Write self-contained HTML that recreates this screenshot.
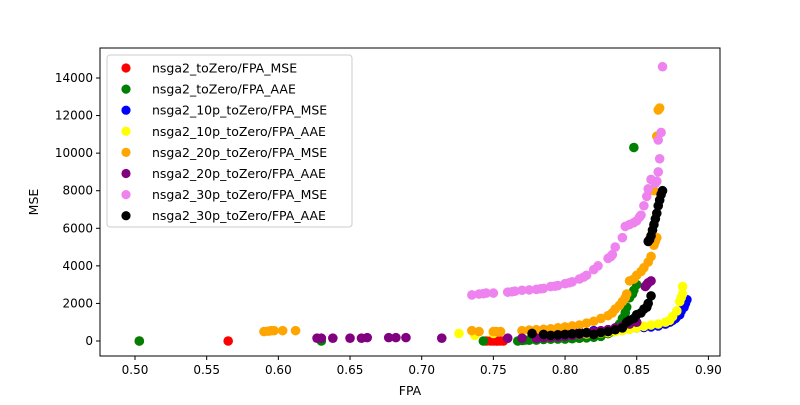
<!DOCTYPE html>
<html><head><meta charset="utf-8"><style>
body{margin:0;background:#fff;width:800px;height:400px;overflow:hidden}
svg{font-family:"DejaVu Sans","Liberation Sans",sans-serif}
</style></head><body>
<svg id="chart" width="800" height="400" xmlns="http://www.w3.org/2000/svg">
<rect x="0" y="0" width="800" height="400" fill="#fff"/>
<g id="marks"></g>
<g id="axes"></g>
<g id="legend"></g>
</svg>
<script>
const xTicks=[0.50,0.55,0.60,0.65,0.70,0.75,0.80,0.85,0.90];
const yTicks=[0,2000,4000,6000,8000,10000,12000,14000];
const seriesNames=["nsga2_toZero/FPA_MSE","nsga2_toZero/FPA_AAE","nsga2_10p_toZero/FPA_MSE","nsga2_10p_toZero/FPA_AAE","nsga2_20p_toZero/FPA_MSE","nsga2_20p_toZero/FPA_AAE","nsga2_30p_toZero/FPA_MSE","nsga2_30p_toZero/FPA_AAE"];
const seriesColors=["red","green","blue","yellow","orange","purple","violet","black"];
const redX=[0.503,0.565,0.745,0.748,0.75,0.752,0.753,0.755,0.757,0.77,0.775,0.78,0.785,0.79,0.80,0.81,0.82,0.83,0.84,0.845];
const redY=[0,0,0,0,0,0,0,0,0,50,50,100,100,100,150,150,200,400,700,900];
const greenX=[0.503,0.63,0.743,0.767,0.77,0.772,0.775,0.78,0.785,0.79,0.795,0.80,0.805,0.81,0.815,0.82,0.825,0.83,0.833,0.835,0.838,0.84,0.842,0.843,0.845,0.847,0.848,0.85,0.848];
const greenY=[0,0,0,0,30,50,50,50,80,100,100,100,120,150,170,200,250,400,500,600,900,1200,1500,1800,2300,2500,2700,3000,10300];
const blueX=[0.78,0.79,0.80,0.81,0.82,0.83,0.84,0.845,0.85,0.855,0.86,0.865,0.87,0.873,0.875,0.877,0.878,0.88,0.881,0.883,0.884,0.885];
const blueY=[500,480,450,500,550,600,650,680,700,720,750,800,900,1000,1100,1200,1300,1400,1600,1800,2000,2200];
const yellowX=[0.726,0.737,0.75,0.80,0.805,0.81,0.815,0.82,0.825,0.83,0.835,0.84,0.845,0.85,0.855,0.86,0.865,0.87,0.873,0.875,0.878,0.88,0.881,0.882,0.882];
const yellowY=[400,300,400,300,320,350,380,400,420,450,500,550,620,700,780,850,900,1000,1100,1300,1600,2100,2300,2500,2900];
const orangeX=[0.59,0.593,0.595,0.597,0.603,0.612,0.735,0.74,0.75,0.752,0.755,0.77,0.775,0.78,0.785,0.79,0.795,0.80,0.805,0.81,0.815,0.82,0.825,0.83,0.833,0.835,0.838,0.84,0.842,0.843,0.845,0.848,0.85,0.853,0.855,0.858,0.86,0.862,0.863,0.864,0.862,0.864,0.865,0.866];
const orangeY=[500,520,550,550,550,550,550,500,500,500,500,550,580,600,620,650,700,750,800,850,950,1050,1200,1350,1500,1700,1900,2100,2300,2500,3200,3300,3500,3700,3900,4200,4500,5100,5300,5500,8000,10900,12300,12400];
const purpleX=[0.627,0.63,0.638,0.65,0.658,0.662,0.677,0.682,0.689,0.714,0.76,0.77,0.78,0.785,0.79,0.795,0.80,0.805,0.81,0.815,0.82,0.825,0.83,0.835,0.84,0.845,0.85,0.856,0.857,0.858,0.86];
const purpleY=[150,150,150,150,150,180,180,180,180,150,150,150,150,180,200,220,250,300,350,420,500,550,600,700,800,900,1000,2900,3000,3100,3200];
const pinkX=[0.735,0.74,0.743,0.745,0.75,0.76,0.763,0.765,0.77,0.775,0.78,0.783,0.785,0.79,0.793,0.795,0.80,0.803,0.805,0.81,0.813,0.815,0.82,0.823,0.83,0.832,0.833,0.835,0.84,0.842,0.845,0.848,0.85,0.852,0.853,0.855,0.857,0.858,0.86,0.863,0.864,0.865,0.866,0.865,0.867,0.868];
const pinkY=[2450,2500,2520,2550,2550,2600,2620,2650,2700,2720,2750,2780,2800,2900,2920,2950,3050,3100,3150,3300,3400,3500,3800,4000,4400,4500,4600,5000,5500,6100,6200,6300,6400,6600,6700,7200,7700,8100,8600,8400,8500,9000,9700,10700,11100,14600];
const blackX=[0.777,0.785,0.79,0.795,0.80,0.805,0.81,0.815,0.82,0.825,0.83,0.835,0.84,0.843,0.845,0.848,0.85,0.853,0.855,0.857,0.858,0.86,0.858,0.859,0.86,0.861,0.862,0.863,0.864,0.865,0.866,0.867,0.868];
const blackY=[400,350,300,330,350,380,400,450,350,450,500,600,700,1000,1100,1200,1400,1500,1700,1800,2000,2400,5300,5400,5600,5900,6200,6500,6800,7200,7500,7800,8000];
const seriesX=[redX,greenX,blueX,yellowX,orangeX,purpleX,pinkX,blackX];
const seriesY=[redY,greenY,blueY,yellowY,orangeY,purpleY,pinkY,blackY];

const NS="http://www.w3.org/2000/svg";
const L=100,R=720,T=48,B=356;
function xs(v){return 135+(v-0.5)*1433.5;}
function ys(v){return 341-v*0.018786;}
function mk(t,a,p){const e=document.createElementNS(NS,t);for(const k in a)e.setAttribute(k,a[k]);p.appendChild(e);return e;}
const marks=document.getElementById('marks');
for(let s=0;s<seriesX.length;s++){
  for(let i=0;i<seriesX[s].length;i++){
    const c=mk('circle',{cx:xs(seriesX[s][i]),cy:ys(seriesY[s][i]),r:4.8,fill:seriesColors[s]},marks);
    
    
  }
}
const ax=document.getElementById('axes');
const fr=mk('rect',{x:L,y:T,width:R-L,height:B-T,fill:'none',stroke:'#000','stroke-width':1},ax);


xTicks.forEach(v=>{const x=xs(v);
  mk('line',{x1:x,x2:x,y1:B,y2:B+4,stroke:'#000'},ax);
  const t=mk('text',{x:x,y:B+18,'text-anchor':'middle','font-size':12},ax);t.textContent=v.toFixed(2);
  
  });
yTicks.forEach(v=>{const y=ys(v);
  mk('line',{x1:L-4,x2:L,y1:y,y2:y,stroke:'#000'},ax);
  const t=mk('text',{x:L-7,y:y+4,'text-anchor':'end','font-size':12},ax);t.textContent=v;
  
  });
const xl=mk('text',{x:410,y:395,'text-anchor':'middle','font-size':12.5},ax);xl.textContent='FPA';


const yl=mk('text',{x:38,y:202,'text-anchor':'middle','font-size':12.5,transform:'rotate(-90 38 202)'},ax);yl.textContent='MSE';


const lg=document.getElementById('legend');
mk('rect',{x:107,y:55,width:245,height:172,rx:3,fill:'#fff','fill-opacity':0.8,stroke:'#ccc'},lg);
seriesNames.forEach((n,i)=>{const y=68+i*21.1;
  const g=mk('g',{},lg);
  
  
  mk('circle',{cx:126,cy:y,r:4.6,fill:seriesColors[i]},g);
  const t=mk('text',{x:152,y:y+4.5,'font-size':12.5},g);t.textContent=n;});
</script>
</body></html>
